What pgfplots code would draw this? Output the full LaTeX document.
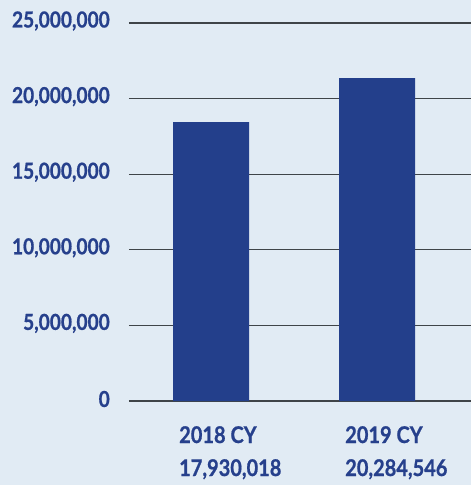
\documentclass[border=0pt]{standalone}
\usepackage{fontspec}
\setmainfont{Lato}[FakeStretch=0.87, BoldFeatures={FakeBold=0.8}]
\usepackage{pgfplots}
\pgfplotsset{compat=1.18}
\definecolor{bg}{HTML}{E1EBF4}
\definecolor{barblue}{HTML}{233F8B}
\definecolor{txtblue}{HTML}{26408C}
\definecolor{gridc}{HTML}{3F4448}
\begin{document}
\begin{tikzpicture}[x=1pt,y=1pt]
\fill[bg] (0,0) rectangle (471,485);
\begin{axis}[
  at={(129pt,84pt)}, anchor=south west,
  scale only axis, width=342pt, height=378pt,
  xmin=-0.494, xmax=1.566,
  ymin=0, ymax=25000000,
  ytick={0,5000000,10000000,15000000,20000000,25000000},
  scaled y ticks=false,
  yticklabel style={/pgf/number format/fixed,/pgf/number format/1000 sep={,},
     /pgf/number format/assume math mode=true,
     font=\fontsize{22}{24}\selectfont\bfseries, text=txtblue, anchor=east, inner sep=0pt, xshift=-19pt, yshift=2pt},
  xtick={0,1},
  xticklabels={{2018 CY\\17,930,018}, {2019 CY\\20,284,546}},
  xticklabel style={font=\fontsize{23}{33}\selectfont\bfseries, text=txtblue, align=left, anchor=north west, inner sep=0pt, xshift=-32pt, yshift=-25pt},
  ymajorgrids, major grid style={draw=gridc, line width=1.3pt},
  axis line style={draw=none},
  major tick length=0pt,
  ybar, bar width=76pt,
]
\addplot[fill=barblue, draw=none] coordinates {(0,18450000) (1,21350000)};
\end{axis}
\end{tikzpicture}
\end{document}
